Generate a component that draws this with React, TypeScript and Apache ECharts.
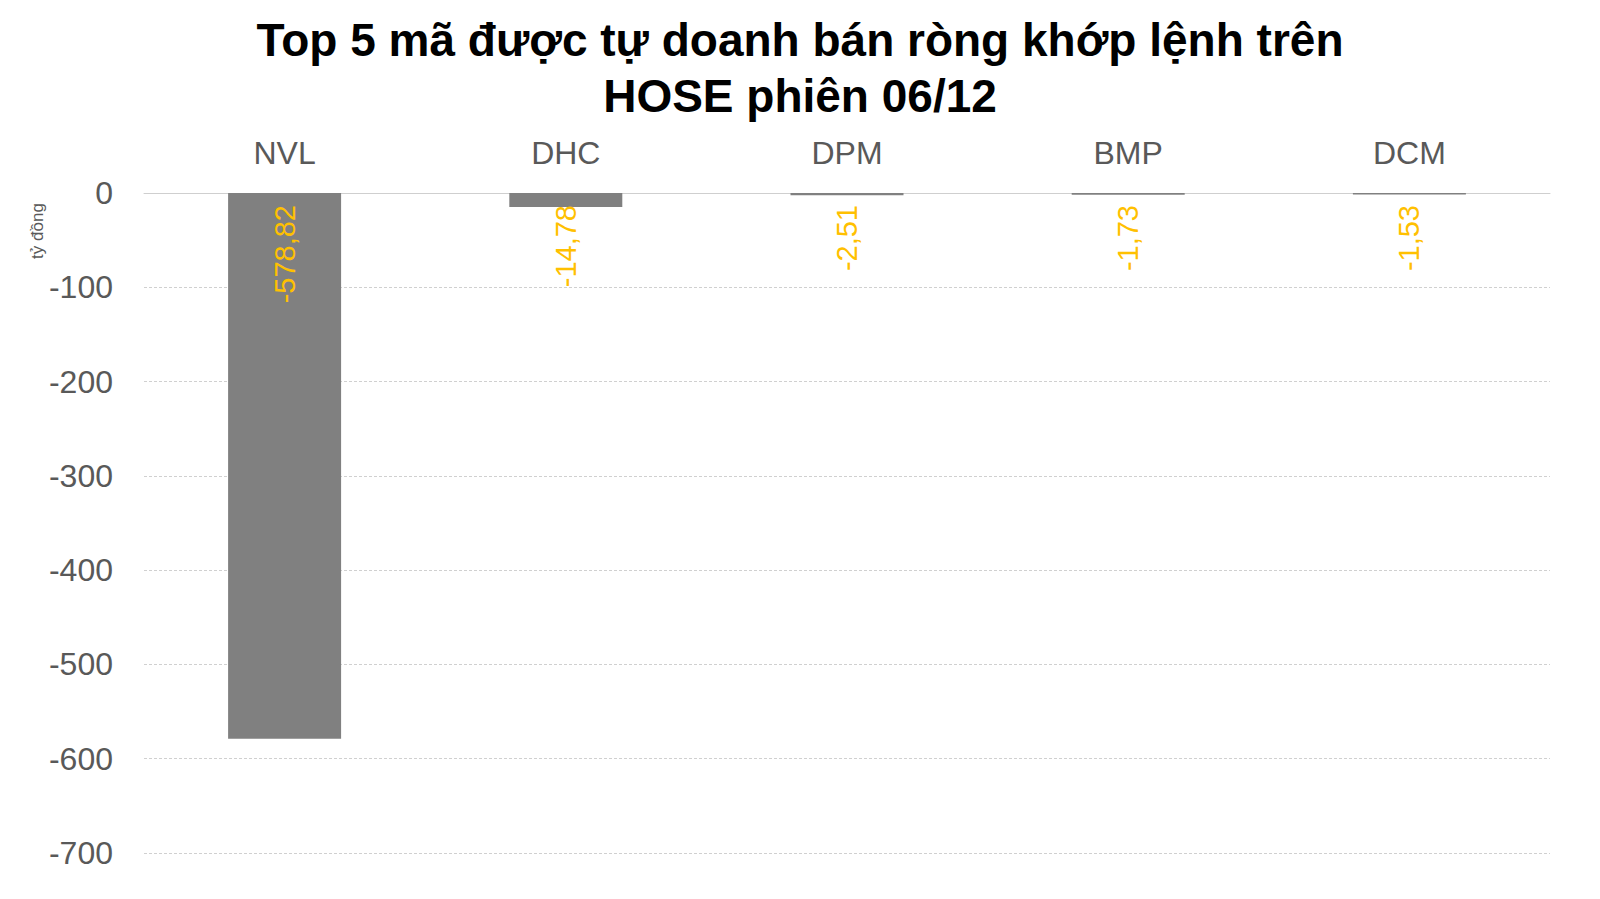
import React from "react";
import * as echarts from "echarts";

// ---------- data ----------
const tickers = ["NVL", "DHC", "DPM", "BMP", "DCM"];
const netSell = [-578.82, -14.78, -2.51, -1.73, -1.53];

const titleText = "Top 5 mã được tự doanh bán ròng khớp lệnh trên\nHOSE phiên 06/12";
const unitText = "tỷ đồng";

const FONT = "'Liberation Sans', Arial, Helvetica, sans-serif";

export default function App() {
  const ref = React.useRef<HTMLDivElement>(null);

  React.useEffect(() => {
    const el = ref.current;
    if (!el) return;
    const chart = echarts.init(el, undefined, { renderer: "svg" });

    const option: echarts.EChartsOption = {
      animation: false,
      backgroundColor: "#ffffff",
      textStyle: { fontFamily: FONT },
      title: {
        text: titleText,
        left: "center",
        top: 7,
        textStyle: {
          fontFamily: FONT,
          fontSize: 46,
          fontWeight: "bold",
          lineHeight: 56,
          color: "#000000",
        },
      },
      graphic: [
        {
          type: "text",
          x: 37,
          y: 231,
          rotation: Math.PI / 2,
          style: {
            text: unitText,
            font: `17px ${FONT}`,
            fill: "#595959",
            textAlign: "center",
            textVerticalAlign: "middle",
          },
        },
      ],
      grid: { left: 144, right: 50, top: 193, bottom: 46, containLabel: false },
      xAxis: {
        type: "category",
        position: "top",
        data: tickers,
        axisLine: { show: true, lineStyle: { color: "#cfcfcf", width: 1 } },
        axisTick: { show: false },
        axisLabel: { fontFamily: FONT, fontSize: 32, color: "#595959", margin: 24 },
      },
      yAxis: {
        type: "value",
        min: -700,
        max: 0,
        interval: 100,
        axisLine: { show: false },
        axisTick: { show: false },
        axisLabel: { fontFamily: FONT, fontSize: 32, color: "#595959", margin: 31 },
        splitLine: { show: true, lineStyle: { color: "#d0d0d0", width: 1, type: [3, 2] } },
      },
      series: [
        {
          type: "bar",
          data: netSell,
          barWidth: 113,
          itemStyle: { color: "#808080" },
          label: {
            show: true,
            position: ["50%", 12],
            rotate: 90,
            align: "right",
            verticalAlign: "middle",
            color: "#FFC000",
            fontFamily: FONT,
            fontSize: 29,
            formatter: (p: any) => String(p.value.toFixed(2)).replace(".", ","),
          },
        },
      ],
    };

    chart.setOption(option);
    return () => chart.dispose();
  }, []);

  return (
    <div
      ref={ref}
      style={{ position: "absolute", left: 0, top: 0, width: 1600, height: 899 }}
    />
  );
}
